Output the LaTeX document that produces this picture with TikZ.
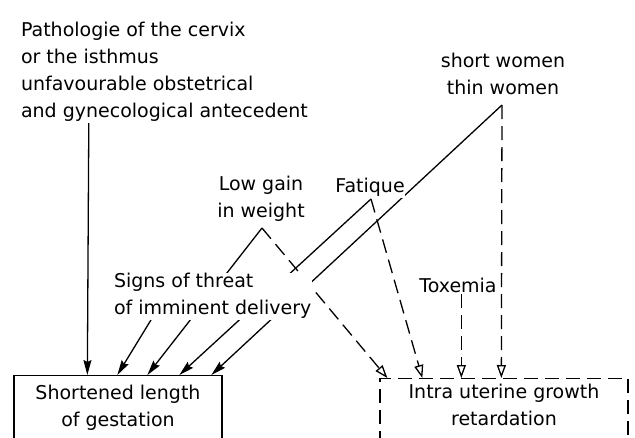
\documentclass[tikz,border=0pt]{standalone}
\usepackage{fontspec}
\setmainfont{DejaVu Sans}
\usetikzlibrary{arrows.meta,backgrounds}
\newcommand{\diagfont}{\fontsize{19pt}{27pt}\selectfont}
\tikzset{
  lbl/.style={font=\diagfont,inner sep=0.8pt,fill=white},
  outcome/.style={draw,font=\diagfont,line width=1.3pt,align=center,anchor=north,inner xsep=0pt,text depth=50pt},
  cause/.style={line width=1.3pt,-{Stealth[length=15pt,width=8pt,inset=2pt]}},
  effect/.style={line width=1.3pt,dash pattern=on 14pt off 7pt,-{Triangle[open,length=13pt,width=9pt]}},
}

\begin{document}
\begin{tikzpicture}[x=1pt,y=-1pt]
  \useasboundingbox (0,0) rectangle (635,437);
  \clip (0,0) rectangle (635,437);
  % factors
  \node[lbl,align=left,anchor=north west] (patho) at (20,21.5) {Pathologie of the cervix\\or the isthmus\\unfavourable obstetrical\\and gynecological antecedent};
  \node[lbl,align=center,anchor=north] (short) at (503,52.5) {short women\\thin women};
  \node[lbl,align=center,anchor=north] (lowgain) at (261,175.5) {Low gain\\in weight};
  \node[lbl,anchor=north] (fatique) at (370,177.5) {Fatique};
  \node[lbl,align=left,anchor=north west] (signs) at (113,272.5) {Signs of threat\\of imminent delivery};
  \node[lbl,anchor=north] (toxemia) at (458,277.5) {Toxemia};
  \coordinate (lowgain-tip) at (262,228);
  \coordinate (fatique-tip) at (371,199);
  \coordinate (short-tip) at (502,105);
  % outcomes
  \node[outcome,minimum width=208pt,inner ysep=9.6pt] (sgest) at (118,375) {Shortened length\\of gestation};
  \node[outcome,minimum width=248pt,inner ysep=5.6pt,dash pattern=on 14pt off 7pt] (iugr) at (504,378) {Intra uterine growth\\retardation};
  \coordinate (sgest-1) at ([xshift=74pt]sgest.north west);
  \coordinate (sgest-2) at ([xshift=104pt]sgest.north west);
  \coordinate (sgest-3) at ([xshift=134pt]sgest.north west);
  \coordinate (sgest-4) at ([xshift=166pt]sgest.north west);
  \coordinate (sgest-5) at ([xshift=198pt]sgest.north west);
  \coordinate (iugr-1) at ([xshift=8pt]iugr.north west);
  \coordinate (iugr-2) at ([xshift=43pt]iugr.north west);
  \coordinate (iugr-3) at ([xshift=82pt]iugr.north west);
  \coordinate (iugr-4) at ([xshift=122pt]iugr.north west);
  % links
  \begin{pgfonlayer}{background}
    \draw[cause] ([xshift=68.8pt]patho.south west) -- (sgest-1);
    \draw[cause] ([xshift=38pt]signs.south west) -- (sgest-2);
    \draw[cause] (lowgain-tip) -- (sgest-3);
    \draw[cause] (fatique-tip) -- (sgest-4);
    \draw[cause] (short-tip) -- (sgest-5);
    \draw[effect] (lowgain-tip) -- (iugr-1);
    \draw[effect] (fatique-tip) -- (iugr-2);
    \draw[effect] (toxemia.south -| iugr-3) -- (iugr-3);
    \draw[effect] (short-tip) -- (iugr-4);
  \end{pgfonlayer}
\end{tikzpicture}
\end{document}
